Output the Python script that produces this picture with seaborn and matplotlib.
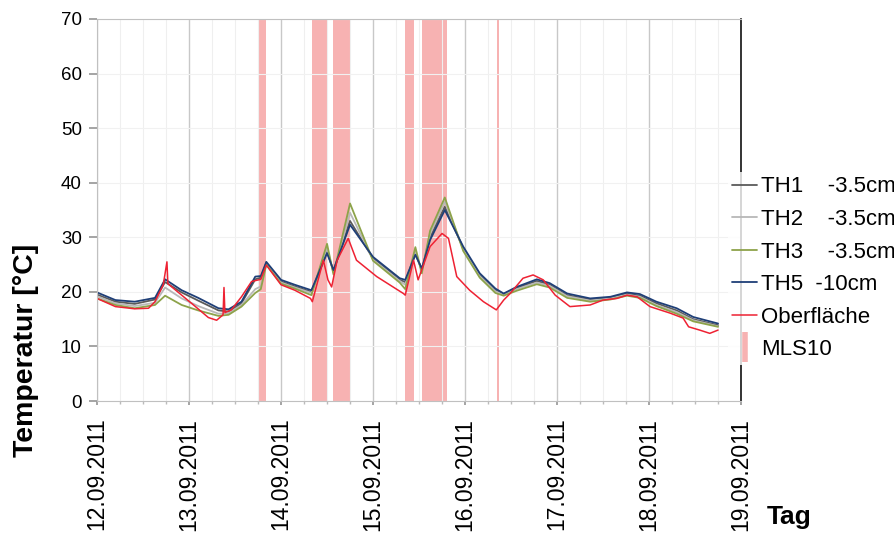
import pandas as pd
import numpy as np
import matplotlib
matplotlib.use("Agg")
import matplotlib.pyplot as plt
import matplotlib.dates as mdates
from matplotlib.lines import Line2D
import seaborn as sns

# Tage seit 12.09.2011 00:00
days = [0.00, 0.20, 0.41, 0.63, 0.74, 0.92, 1.10, 1.32, 1.43, 1.57, 1.72, 1.78, 1.84, 2.00,
        2.15, 2.33, 2.50, 2.57, 2.75, 3.00, 3.29, 3.35, 3.46, 3.53, 3.62, 3.78, 3.98, 4.16,
        4.33, 4.42, 4.56, 4.78, 4.92, 5.11, 5.36, 5.58, 5.76, 5.90, 6.08, 6.30, 6.48, 6.75]
th5 = [19.9, 18.5, 18.2, 18.9, 22.3, 20.3, 18.9, 17.0, 16.8, 18.2, 22.8, 22.9, 25.5, 22.2,
       21.3, 20.3, 27.1, 24.0, 32.3, 26.4, 22.5, 22.2, 26.8, 24.3, 29.5, 35.0, 28.3, 23.4,
       20.6, 19.7, 20.9, 22.3, 21.6, 19.7, 18.8, 19.1, 19.9, 19.6, 18.2, 17.0, 15.4, 14.2]
th1 = [19.5, 18.2, 17.8, 18.6, 21.8, 19.9, 18.4, 16.6, 16.4, 17.9, 22.3, 22.6, 25.3, 21.9,
       21.0, 20.0, 27.4, 23.8, 33.0, 26.1, 22.2, 21.8, 27.0, 24.0, 30.0, 35.6, 28.0, 23.1,
       20.3, 19.6, 20.7, 22.0, 21.3, 19.4, 18.6, 18.9, 19.7, 19.3, 17.9, 16.6, 15.0, 13.9]
th2 = [19.2, 17.9, 17.4, 18.0, 20.8, 18.8, 17.4, 16.0, 16.1, 17.6, 20.5, 21.0, 25.2, 21.7,
       20.8, 19.8, 28.0, 23.5, 34.5, 25.9, 22.0, 21.3, 27.5, 23.8, 30.6, 36.5, 27.8, 22.9,
       20.1, 19.5, 20.5, 21.7, 21.1, 19.2, 18.4, 18.8, 19.5, 19.1, 17.6, 16.3, 14.8, 13.7]
th3 = [18.8, 17.6, 17.0, 17.6, 19.3, 17.6, 16.6, 15.6, 15.8, 17.3, 19.8, 20.5, 25.0, 21.5,
       20.6, 19.4, 28.8, 23.2, 36.2, 25.7, 21.7, 20.5, 28.2, 23.4, 31.2, 37.3, 27.5, 22.6,
       19.8, 19.3, 20.2, 21.4, 20.8, 18.9, 18.2, 18.6, 19.3, 18.9, 17.4, 16.0, 14.6, 13.6]

surf_days = [0.00, 0.20, 0.41, 0.56, 0.63, 0.72, 0.76, 0.77, 0.92, 1.07, 1.21, 1.30, 1.37,
             1.38, 1.39, 1.46, 1.57, 1.68, 1.78, 1.84, 2.00, 2.15, 2.32, 2.34, 2.46, 2.51,
             2.55, 2.61, 2.73, 2.82, 3.04, 3.33, 3.35, 3.44, 3.49, 3.62, 3.75, 3.82, 3.91,
             4.05, 4.20, 4.34, 4.42, 4.49, 4.63, 4.74, 4.85, 4.98, 5.14, 5.36, 5.50, 5.65,
             5.76, 5.87, 6.01, 6.23, 6.37, 6.43, 6.55, 6.66, 6.75]
surf = [18.8, 17.3, 16.9, 17.0, 18.2, 21.3, 25.5, 21.5, 19.4, 17.3, 15.3, 14.8, 15.8,
        20.8, 16.2, 16.7, 19.1, 21.9, 22.3, 24.9, 21.3, 20.3, 18.8, 18.2, 25.8, 22.2,
        20.9, 25.8, 29.8, 25.8, 22.8, 19.7, 19.4, 25.8, 22.2, 28.3, 30.7, 29.8, 22.8,
        20.3, 18.2, 16.7, 18.5, 19.7, 22.5, 23.1, 22.2, 19.4, 17.3, 17.6, 18.5, 18.8,
        19.4, 19.1, 17.3, 16.1, 15.2, 13.6, 13.0, 12.4, 13.0]

# MLS10 Zeitraeume (Tage)
mls_start = [1.764, 2.340, 2.569, 3.348, 3.536, 4.345]
mls_end = [1.834, 2.503, 2.758, 3.446, 3.801, 4.373]

series_names = ["TH1    -3.5cm", "TH2    -3.5cm", "TH3    -3.5cm", "TH5  -10cm"]
series_colors = ["#5a5a5a", "#b8b8b8", "#8da34a", "#1f3f77"]

t0 = pd.Timestamp("2011-09-12")


def to_time(d):
    return t0 + pd.to_timedelta(np.asarray(d, dtype=float), unit="D")


sns.set_theme(style="white")
plt.rcParams["font.family"] = ["Liberation Sans", "DejaVu Sans"]
plt.rcParams["text.color"] = "black"
plt.rcParams["xtick.labelcolor"] = "black"
plt.rcParams["ytick.labelcolor"] = "black"

fig = plt.figure(figsize=(8.95, 5.38), dpi=100)
ax = fig.add_axes([0.1084, 0.2546, 0.7196, 0.7101])

for s, e in zip(mls_start, mls_end):
    ax.axvspan(to_time(s), to_time(e), color="#f7b2b2", lw=0, zorder=0.5)

df = pd.DataFrame({"t": to_time(days)})
for name, vals, col in zip(series_names, [th1, th2, th3, th5], series_colors):
    sns.lineplot(x=df["t"], y=vals, ax=ax, color=col, lw=1.3, label=name)
sns.lineplot(x=to_time(surf_days), y=surf, ax=ax, color="#ee2233", lw=1.1, label="Oberfläche")

ax.set_xlim(t0, t0 + pd.Timedelta(days=7))
ax.set_ylim(0, 70)
ax.set_yticks(range(0, 71, 10))
ax.xaxis.set_major_locator(mdates.DayLocator())
ax.xaxis.set_minor_locator(mdates.HourLocator(byhour=[6, 12, 18]))
ax.xaxis.set_major_formatter(mdates.DateFormatter("%d.%m.%Y"))

ax.grid(which="major", axis="x", color="#c8c8c8", lw=1.0)
ax.grid(which="minor", axis="x", color="#efefef", lw=0.8)
ax.grid(which="major", axis="y", color="#f1f1f1", lw=0.8)
ax.set_axisbelow(True)

for side in ["left", "top", "bottom"]:
    ax.spines[side].set_color("#c0c0c0")
    ax.spines[side].set_linewidth(0.8)
ax.spines["right"].set_color("#111111")
ax.spines["right"].set_linewidth(1.2)

ax.tick_params(axis="y", which="major", direction="out", length=6, color="#999999",
               labelsize=13.5, pad=5, left=True)
ax.tick_params(axis="x", which="major", direction="out", length=3, color="#999999",
               labelsize=16.5, pad=9, bottom=True)
ax.tick_params(axis="x", which="minor", direction="out", length=2, color="#bbbbbb", bottom=True)
for lab in ax.get_xticklabels():
    lab.set_rotation(90)
ax.set_xlabel("")
ax.set_ylabel("")

fig.text(0.029, 0.349, "Temperatur [°C]", rotation=90, ha="center", va="center",
         fontsize=20.5, fontweight="bold")
fig.text(0.857, 0.039, "Tag", ha="left", va="center", fontsize=19, fontweight="bold")

handles, labels = ax.get_legend_handles_labels()
handles.append(Line2D([], [], ls="none", marker="|", markersize=22, mew=4, color="#f7b2b2"))
labels.append("MLS10")
ax.legend(handles, labels, loc="upper left", bbox_to_anchor=(728 / 895, 1 - 172 / 538),
          bbox_transform=fig.transFigure, frameon=True, facecolor="white", edgecolor="none",
          fancybox=False, fontsize=16, handlelength=1.1, handletextpad=0.2,
          labelspacing=0.52, borderpad=0.2, borderaxespad=0)

fig.savefig("out.png", dpi=100)
